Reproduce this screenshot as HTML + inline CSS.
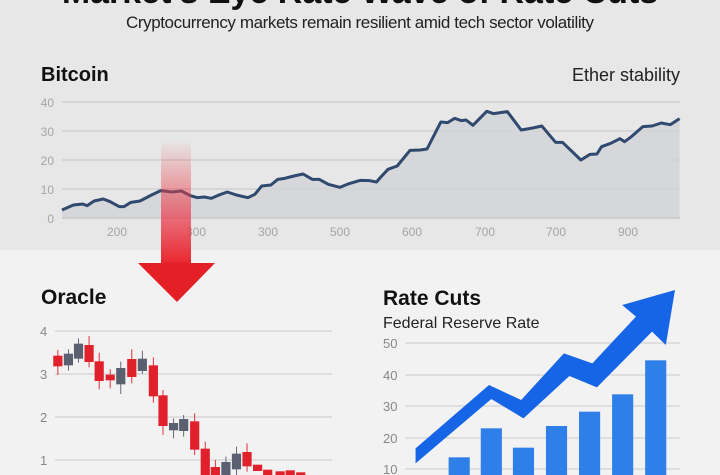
<!DOCTYPE html>
<html><head><style>
body{margin:0;background:#f2f2f2;}
svg{display:block;font-family:"Liberation Sans",sans-serif;}
</style></head><body>
<svg width="720" height="475" viewBox="0 0 720 475">
<defs>
<linearGradient id="sh" x1="0" y1="0" x2="0" y2="1">
<stop offset="0" stop-color="#e83a3a" stop-opacity="0"/>
<stop offset="0.6" stop-color="#ea3e4e" stop-opacity="0.7"/>
<stop offset="1" stop-color="#e8232a"/>
</linearGradient>
</defs>
<rect x="0" y="0" width="720" height="250" fill="#e7e7e8"/>
<rect x="0" y="250" width="720" height="225" fill="#f2f2f2"/>
<text x="360" y="3" text-anchor="middle" font-size="34" font-weight="bold" fill="#111">Market's Eye Rate Wave of Rate Cuts</text>
<text x="360" y="28" text-anchor="middle" font-size="17" fill="#222" textLength="468">Cryptocurrency markets remain resilient amid tech sector volatility</text>
<text x="41" y="81" font-size="20" font-weight="bold" fill="#111">Bitcoin</text>
<text x="680" y="81" text-anchor="end" font-size="18" fill="#222">Ether stability</text>
<g stroke="#cfd0d2" stroke-width="1.5">
<line x1="62" y1="102" x2="680" y2="102"/><line x1="62" y1="131" x2="680" y2="131"/>
<line x1="62" y1="160" x2="680" y2="160"/><line x1="62" y1="189" x2="680" y2="189"/>
<line x1="62" y1="218" x2="680" y2="218" stroke="#bbb"/>
</g>
<g font-size="12" fill="#a5a5a5" text-anchor="end">
<text x="54" y="107">40</text><text x="54" y="136">30</text><text x="54" y="165">20</text><text x="54" y="194">10</text><text x="54" y="223">0</text>
</g>
<g font-size="12" fill="#a5a5a5" text-anchor="middle">
<text x="117" y="236">200</text><text x="196" y="236">300</text><text x="268" y="236">300</text><text x="340" y="236">500</text><text x="412" y="236">600</text><text x="485" y="236">700</text><text x="556" y="236">700</text><text x="628" y="236">900</text>
</g>
<g transform="scale(0.45918,0.33333)">
<polygon fill="#d2d3d7" opacity="0.8" points="135,630 160,615 180,612 190,617 205,603 225,597 240,605 260,620 270,620 285,607 305,603 330,585 350,572 375,576 395,573 415,587 430,593 445,591 460,595 475,586 495,576 515,585 540,593 555,583 570,558 590,555 605,538 620,535 640,528 660,522 680,538 695,538 715,553 740,562 760,551 785,541 805,542 820,546 830,530 845,508 865,498 893,451 915,450 930,447 960,366 975,368 990,355 1005,362 1015,360 1030,376 1060,334 1075,341 1090,338 1105,335 1135,390 1160,384 1180,378 1210,427 1225,427 1265,480 1285,463 1300,462 1310,440 1330,430 1350,416 1360,425 1375,410 1400,380 1420,378 1440,369 1460,374 1480,356 1480,655 135,655"/>
<polyline fill="none" stroke="#2f4a6e" stroke-width="3" vector-effect="non-scaling-stroke" stroke-linejoin="round" points="135,630 160,615 180,612 190,617 205,603 225,597 240,605 260,620 270,620 285,607 305,603 330,585 350,572 375,576 395,573 415,587 430,593 445,591 460,595 475,586 495,576 515,585 540,593 555,583 570,558 590,555 605,538 620,535 640,528 660,522 680,538 695,538 715,553 740,562 760,551 785,541 805,542 820,546 830,530 845,508 865,498 893,451 915,450 930,447 960,366 975,368 990,355 1005,362 1015,360 1030,376 1060,334 1075,341 1090,338 1105,335 1135,390 1160,384 1180,378 1210,427 1225,427 1265,480 1285,463 1300,462 1310,440 1330,430 1350,416 1360,425 1375,410 1400,380 1420,378 1440,369 1460,374 1480,356"/>
</g>
<rect x="161" y="140" width="30" height="125" fill="url(#sh)"/>
<polygon points="138,263 215,263 177,302" fill="#e32028"/>
<text x="41" y="304" font-size="21" font-weight="bold" fill="#111">Oracle</text>
<g stroke="#d8d8d8" stroke-width="1.5">
<line x1="55" y1="331" x2="332" y2="331"/><line x1="55" y1="374" x2="332" y2="374"/><line x1="55" y1="417" x2="332" y2="417"/><line x1="55" y1="460" x2="332" y2="460"/>
</g>
<g font-size="13" fill="#888"><text x="40" y="336">4</text><text x="40" y="379">3</text><text x="40" y="422">2</text><text x="40" y="465">1</text></g>
<g transform="translate(0,250) scale(0.45918,0.33333)" stroke-width="2" vector-effect="non-scaling-stroke">
<g fill="#e0202a" stroke="#e0202a">
<line x1="126" y1="300" x2="126" y2="375"/><rect x="117" y="318" width="18" height="30"/>
<line x1="194" y1="258" x2="194" y2="352"/><rect x="185" y="286" width="18" height="49"/>
<line x1="216" y1="308" x2="216" y2="418"/><rect x="207" y="335" width="18" height="57"/>
<line x1="240" y1="358" x2="240" y2="415"/><rect x="231" y="375" width="18" height="15"/>
<line x1="287" y1="298" x2="287" y2="400"/><rect x="278" y="328" width="18" height="52"/>
<line x1="334" y1="322" x2="334" y2="458"/><rect x="325" y="347" width="18" height="91"/>
<line x1="355" y1="420" x2="355" y2="555"/><rect x="346" y="437" width="18" height="90"/>
<line x1="424" y1="490" x2="424" y2="615"/><rect x="415" y="515" width="18" height="83"/>
<line x1="447" y1="575" x2="447" y2="675"/><rect x="438" y="597" width="18" height="78"/>
<line x1="469" y1="630" x2="469" y2="675"/><rect x="460" y="652" width="18" height="23"/>
<line x1="538" y1="580" x2="538" y2="665"/><rect x="529" y="607" width="18" height="41"/>
<rect x="552" y="645" width="18" height="17"/><rect x="574" y="660" width="18" height="15"/>
<rect x="601" y="665" width="18" height="10"/><rect x="623" y="662" width="18" height="13"/><rect x="646" y="668" width="18" height="7"/>
</g>
<g fill="#5a6070" stroke="#5a6070">
<line x1="149" y1="298" x2="149" y2="362"/><rect x="140" y="312" width="18" height="33"/>
<line x1="171" y1="265" x2="171" y2="338"/><rect x="162" y="282" width="18" height="43"/>
<line x1="263" y1="335" x2="263" y2="432"/><rect x="254" y="355" width="18" height="47"/>
<line x1="310" y1="302" x2="310" y2="372"/><rect x="301" y="327" width="18" height="35"/>
<line x1="378" y1="505" x2="378" y2="565"/><rect x="369" y="520" width="18" height="20"/>
<line x1="400" y1="495" x2="400" y2="560"/><rect x="391" y="508" width="18" height="34"/>
<line x1="492" y1="620" x2="492" y2="675"/><rect x="483" y="637" width="18" height="38"/>
<line x1="515" y1="590" x2="515" y2="675"/><rect x="506" y="612" width="18" height="45"/>
</g>
</g>
<text x="383" y="305" font-size="21" font-weight="bold" fill="#111">Rate Cuts</text>
<text x="383" y="328" font-size="16" fill="#222">Federal Reserve Rate</text>
<g stroke="#d8d8d8" stroke-width="1.5">
<line x1="405" y1="343" x2="680" y2="343"/><line x1="405" y1="375" x2="680" y2="375"/><line x1="405" y1="406" x2="680" y2="406"/><line x1="405" y1="438" x2="680" y2="438"/><line x1="405" y1="469" x2="680" y2="469"/>
</g>
<g font-size="13" fill="#888"><text x="383" y="348">50</text><text x="383" y="380">40</text><text x="383" y="411">30</text><text x="383" y="443">20</text><text x="383" y="474">10</text></g>
<g transform="translate(0,250) scale(0.45918,0.33333)" fill="#2f7fe8">
<rect x="977" y="622" width="46" height="60"/><rect x="1047" y="535" width="46" height="150"/><rect x="1117" y="593" width="46" height="90"/>
<rect x="1189" y="528" width="46" height="150"/><rect x="1261" y="485" width="46" height="200"/><rect x="1333" y="433" width="46" height="250"/><rect x="1405" y="331" width="46" height="350"/>
<polygon fill="#1565e6" points="905,595 1065,405 1135,450 1228,310 1290,340 1385,200 1355,165 1470,120 1450,285 1420,245 1300,412 1240,378 1140,505 1070,447 905,640"/>
</g>
</svg>
</body></html>
